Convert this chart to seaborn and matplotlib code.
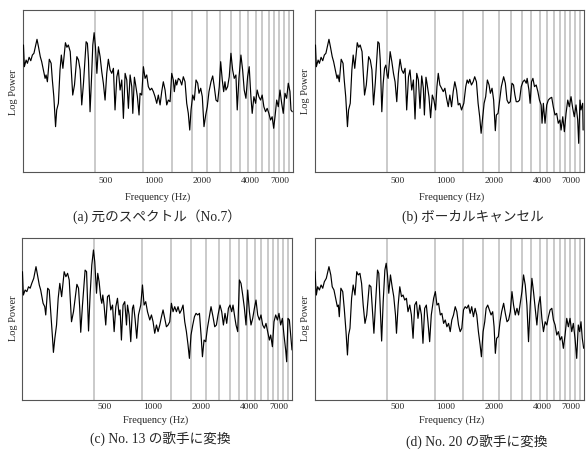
import matplotlib
matplotlib.use("Agg")
import matplotlib.pyplot as plt
import matplotlib.ticker as mticker
import seaborn as sns

sns.set_style("white")
plt.rcParams["font.family"] = ["Liberation Serif", "Noto Sans CJK JP"]

# (a) original spectrum, No.7 -- frequency in Hz, log power in arbitrary units (0-100)
A_FREQ = [154, 156, 160, 163, 167, 171, 175, 179, 187, 191,
          196, 200, 205, 210, 213, 217, 223, 229, 233, 238,
          244, 248, 254, 260, 265, 271, 281, 287, 293, 301,
          312, 320, 331, 339, 347, 355, 364, 378, 385, 391,
          400, 408, 416, 424, 432, 441, 451, 462, 473, 484,
          496, 508, 520, 533, 546, 559, 572, 587, 600, 615,
          630, 645, 661, 677, 693, 710, 727, 738, 755, 766,
          788, 807, 819, 839, 859, 880, 901, 922, 945, 968,
          991, 1015, 1040, 1064, 1091, 1117, 1143, 1172, 1200, 1228,
          1259, 1289, 1319, 1338, 1365, 1385, 1417, 1452, 1488, 1522,
          1560, 1598, 1635, 1669, 1700, 1742, 1782, 1826, 1871, 1906,
          1953, 1998, 2047, 2098, 2146, 2199, 2263, 2319, 2372, 2431,
          2491, 2548, 2600, 2660, 2714, 2765, 2804, 2873, 2940, 3012,
          3086, 3158, 3235, 3296, 3377, 3475, 3561, 3643, 3733, 3825,
          3913, 4009, 4085, 4185, 4288, 4387, 4495, 4606, 4712, 4828,
          4947, 5062, 5186, 5314, 5437, 5557, 5663, 5802, 5936, 6082,
          6232, 6376, 6534, 6694, 6851, 7019, 7120, 7254]
A_POWER = [78.4, 65.0, 69.1, 67.1, 70.8, 68.7, 72.2, 73.3, 81.9, 77.3,
           71.2, 68.1, 63.0, 57.8, 59.9, 55.7, 69.6, 67.1, 56.8, 46.5,
           28.0, 38.3, 42.4, 63.0, 72.2, 64.0, 79.8, 77.0, 78.4, 74.3,
           47.5, 53.7, 71.2, 69.1, 63.0, 41.4, 54.8, 80.4, 79.4, 69.1,
           37.2, 56.8, 78.4, 86.0, 77.3, 60.9, 77.3, 71.2, 61.9, 54.8,
           44.4, 60.9, 69.6, 63.0, 60.9, 64.0, 38.3, 58.8, 63.0, 50.6,
           56.8, 33.1, 60.9, 56.8, 39.3, 59.9, 52.7, 36.2, 58.5, 54.8,
           46.5, 35.2, 48.6, 47.5, 65.0, 57.8, 59.9, 52.7, 50.6, 51.7,
           49.6, 46.5, 42.4, 47.5, 41.4, 49.6, 55.7, 50.6, 41.4, 44.4,
           43.4, 60.9, 56.8, 49.6, 56.8, 53.7, 57.8, 56.8, 53.7, 58.8,
           55.7, 42.4, 36.2, 25.9, 38.3, 47.5, 44.4, 56.8, 54.8, 48.6,
           51.7, 46.5, 28.0, 35.2, 40.3, 49.6, 55.7, 59.3, 52.7, 44.4,
           43.4, 52.7, 68.1, 56.8, 49.6, 55.7, 50.6, 52.7, 58.8, 73.3,
           63.0, 57.8, 59.9, 38.3, 57.8, 72.2, 63.0, 50.6, 45.5, 58.8,
           65.0, 46.5, 36.2, 46.5, 42.4, 50.6, 46.5, 44.4, 47.5, 40.3,
           37.2, 39.3, 36.2, 32.1, 34.1, 27.0, 34.1, 44.4, 40.3, 50.6,
           42.4, 36.2, 48.6, 45.5, 54.8, 49.6, 38.3, 37.2]

# (b) vocal cancelled
B_FREQ = [154, 156, 160, 163, 167, 171, 175, 179, 187, 191,
          196, 200, 205, 210, 213, 217, 223, 229, 233, 238,
          244, 248, 254, 260, 265, 271, 281, 287, 293, 301,
          312, 320, 331, 339, 347, 355, 364, 378, 385, 391,
          400, 408, 416, 424, 432, 438, 451, 462, 473, 484, 496, 508, 520,
          533, 546, 559, 572, 587, 600, 615, 630, 645, 661,
          677, 693, 710, 727, 738, 755, 766, 788, 807,
          827, 846, 867, 884, 901, 922, 945, 968, 991, 1015,
          1040, 1064, 1091, 1117, 1143, 1172, 1200, 1228, 1259, 1301,
          1338, 1365, 1391, 1417, 1452, 1488, 1522, 1560, 1598, 1635,
          1669, 1700, 1742, 1782, 1826, 1871, 1906, 1953, 1998, 2047,
          2078, 2129, 2178, 2232, 2307, 2364, 2422, 2478, 2539, 2600,
          2660, 2714, 2765, 2835, 2901, 2972, 3046, 3116, 3193, 3235,
          3319, 3377, 3445, 3515, 3596, 3685, 3775, 3863, 3958, 4009,
          4085, 4185, 4288, 4387, 4495, 4606, 4712, 4828, 4947, 5062,
          5186, 5271, 5401, 5526, 5662, 5802, 5936, 6082, 6232, 6376,
          6533, 6694, 6791, 6919, 7019, 7191, 7237]
B_POWER = [78.4, 65.0, 69.1, 67.1, 70.8, 68.7, 72.2, 73.3, 81.9, 77.3,
           71.2, 68.1, 63.0, 57.8, 59.9, 55.7, 69.6, 67.1, 56.8, 46.5,
           28.0, 38.3, 42.4, 63.0, 72.2, 64.0, 79.8, 77.0, 78.4, 74.3,
           47.5, 53.7, 71.2, 69.1, 63.0, 41.4, 54.8, 80.4, 79.4, 69.1,
           37.2, 54.8, 64.0, 66.0, 59.9, 57.8, 74.3, 68.1, 60.9, 55.7, 43.4, 60.9, 69.6,
           63.0, 60.9, 64.0, 38.3, 58.8, 63.0, 50.6, 56.8, 32.7, 60.9,
           56.8, 39.3, 59.3, 51.7, 35.2, 58.5, 54.8, 46.5, 33.5,
           47.5, 44.4, 38.3, 52.7, 60.9, 53.7, 51.7, 49.6, 51.7, 45.5,
           40.3, 47.5, 40.3, 49.6, 55.7, 50.6, 41.4, 42.4, 38.3, 42.4,
           52.7, 56.8, 54.8, 57.2, 53.7, 55.7, 58.8, 55.7, 42.4, 34.1,
           23.9, 32.1, 42.4, 46.5, 56.8, 53.7, 48.6, 51.7, 44.4, 25.5,
           35.2, 36.2, 44.4, 52.7, 58.8, 54.8, 44.4, 42.4, 43.4, 54.8,
           53.7, 47.5, 43.4, 43.4, 44.4, 52.7, 55.7, 56.8, 54.8, 57.8,
           50.6, 42.4, 55.7, 57.8, 52.7, 53.7, 49.6, 44.4, 41.4, 30.1,
           42.4, 30.1, 41.4, 44.4, 45.5, 46.1, 40.3, 35.2, 36.2, 30.1,
           32.1, 25.9, 34.1, 24.9, 36.2, 44.4, 40.3, 46.5, 39.3, 34.1,
           41.4, 32.1, 17.7, 44.4, 38.3, 42.4, 25.9]

# (c) converted to singer No. 13
C_FREQ = [154, 156, 160, 164, 168, 172, 176, 181, 187, 191,
          196, 200, 207, 212, 215, 221, 226, 231, 237, 240,
          245, 251, 257, 263, 270, 280, 287, 294, 301, 311,
          320, 336, 344, 350, 355, 364, 378, 386, 391, 397,
          406, 416, 426, 434, 445, 453, 462, 473, 480, 487,
          496, 508, 521, 533, 546, 560, 573, 587, 601, 615,
          624, 636, 651, 667, 684, 694, 710, 727, 745, 756,
          773, 792, 812, 839, 860, 880, 901, 924, 955, 978,
          1001, 1025, 1051, 1075, 1102, 1129, 1155, 1183, 1212, 1241,
          1271, 1302, 1333, 1365, 1399, 1432, 1467, 1503, 1538, 1576,
          1614, 1652, 1685, 1724, 1768, 1811, 1853, 1899, 1946, 1991,
          2031, 2078, 2129, 2181, 2232, 2297, 2363, 2422, 2481, 2539,
          2612, 2677, 2743, 2807, 2876, 2947, 3015, 3089, 3148, 3225,
          3286, 3367, 3450, 3530, 3617, 3706, 3792, 3885, 3981, 4073,
          4174, 4276, 4376, 4483, 4594, 4700, 4816, 4935, 5049, 5174,
          5301, 5401, 5534, 5662, 5802, 5945, 6082, 6232, 6385, 6533,
          6694, 6791, 6919, 7059, 7191, 7327]
C_POWER = [79.2, 64.8, 67.9, 66.9, 69.9, 69.0, 72.0, 75.1, 82.3, 77.2,
           71.0, 67.9, 59.7, 57.6, 52.5, 69.0, 67.9, 54.5, 38.1, 29.4,
           38.1, 46.3, 62.8, 72.0, 63.8, 79.2, 76.1, 78.2, 74.1, 48.3,
           54.5, 71.4, 69.0, 56.6, 41.8, 58.6, 80.2, 79.2, 62.8, 42.6,
           64.8, 83.3, 92.6, 85.4, 65.9, 78.2, 73.0, 62.8, 59.7, 64.8,
           58.6, 46.3, 63.8, 64.8, 55.6, 58.6, 42.2, 57.6, 62.8, 52.5,
           55.6, 37.0, 58.6, 60.7, 46.3, 58.6, 52.5, 36.0, 56.6, 58.6,
           50.4, 38.1, 52.5, 58.6, 71.0, 58.6, 60.7, 54.5, 49.4, 52.5,
           48.3, 41.2, 46.3, 42.2, 46.3, 51.4, 55.6, 50.4, 45.2, 46.3,
           48.3, 59.7, 54.5, 57.6, 54.5, 57.6, 53.5, 55.6, 58.6, 48.3,
           42.2, 34.0, 25.7, 40.1, 46.3, 51.4, 53.5, 52.5, 53.5, 40.1,
           26.7, 37.0, 36.0, 44.3, 50.4, 57.6, 51.4, 45.2, 46.3, 52.5,
           58.6, 54.5, 46.3, 53.5, 47.3, 56.6, 58.6, 54.5, 58.6, 51.4,
           46.3, 42.2, 74.1, 72.0, 64.8, 56.6, 46.3, 67.9, 54.5, 46.3,
           50.4, 56.6, 61.7, 52.5, 49.4, 52.5, 46.3, 44.3, 47.3, 42.2,
           37.0, 40.1, 32.9, 48.3, 52.5, 49.4, 53.5, 46.3, 50.4, 40.1,
           30.9, 23.6, 50.4, 49.4, 40.1, 30.9]

# (d) converted to singer No. 20
D_FREQ = [153, 156, 159, 163, 167, 171, 175, 180, 187, 192,
          196, 201, 206, 211, 214, 217, 222, 228, 233, 239,
          244, 248, 253, 259, 265, 272, 279, 285, 292, 299,
          306, 314, 322, 334, 342, 348, 357, 366, 376, 383,
          389, 399, 408, 418, 426, 434, 442, 453, 464, 475,
          487, 494, 506, 518, 531, 543, 556, 570, 583, 598,
          612, 627, 642, 658, 673, 690, 707, 723, 741, 759,
          777, 796, 815, 843, 864, 884, 905, 928, 949, 973,
          996, 1020, 1045, 1070, 1095, 1122, 1150, 1177, 1206, 1235,
          1264, 1295, 1327, 1358, 1391, 1425, 1458, 1494, 1531, 1567,
          1605, 1645, 1676, 1717, 1758, 1793, 1835, 1880, 1926, 1971,
          2011, 2048, 2087, 2138, 2191, 2242, 2307, 2363, 2422, 2478,
          2539, 2601, 2661, 2728, 2795, 2860, 2930, 3002, 3072, 3148,
          3225, 3300, 3381, 3465, 3545, 3632, 3722, 3808, 3902, 3998,
          4091, 4192, 4295, 4395, 4503, 4614, 4721, 4837, 4956, 5071,
          5196, 5324, 5448, 5582, 5719, 5852, 5996, 6144, 6286, 6441,
          6599, 6752, 6889, 7019, 7150, 7295]
D_POWER = [79.2, 64.8, 69.9, 67.9, 71.0, 69.0, 73.0, 75.1, 82.3, 77.2,
           69.9, 67.9, 62.8, 57.6, 58.6, 51.4, 69.0, 66.9, 56.6, 42.2,
           27.8, 40.1, 44.3, 62.8, 71.0, 64.8, 79.2, 77.2, 78.2, 72.0,
           58.6, 47.3, 52.5, 71.0, 69.9, 58.6, 41.2, 60.7, 80.2, 78.2,
           62.8, 36.4, 60.7, 80.2, 84.4, 77.2, 65.9, 77.2, 69.9, 63.8,
           52.5, 41.2, 58.6, 69.9, 63.8, 64.8, 61.7, 62.8, 54.5, 58.6,
           52.5, 38.1, 58.6, 60.7, 50.4, 58.6, 52.5, 35.0, 56.6, 58.6,
           48.3, 36.0, 52.5, 62.8, 66.9, 58.6, 59.7, 52.5, 53.5, 47.3,
           49.4, 45.2, 47.3, 42.2, 49.4, 52.5, 57.6, 54.5, 46.3, 42.2,
           44.3, 55.6, 57.6, 56.6, 58.6, 53.5, 57.6, 51.4, 56.6, 52.5,
           42.2, 34.0, 26.7, 42.2, 48.3, 56.6, 58.6, 55.6, 52.5, 54.5,
           45.2, 28.8, 38.1, 39.1, 48.3, 54.5, 59.7, 53.5, 48.3, 49.4,
           54.5, 66.9, 58.6, 52.5, 56.6, 52.5, 59.7, 66.9, 77.2, 71.0,
           58.6, 36.0, 58.6, 75.1, 66.9, 56.6, 46.3, 58.6, 63.8, 50.4,
           42.2, 48.3, 46.3, 51.4, 55.6, 56.6, 49.4, 46.3, 40.1, 42.2,
           37.0, 39.1, 31.9, 40.1, 50.4, 45.2, 50.4, 42.2, 47.3, 38.1,
           25.7, 46.3, 42.2, 48.3, 38.1, 31.9]

# harmonic positions (gray vertical lines), Hz
HARMONICS_HZ = [430, 860, 1290, 1720, 2150, 2580, 3010, 3440,
                3870, 4300, 4730, 5160, 5590, 6020, 6450, 6880]
TICKS_HZ = [500, 1000, 2000, 4000, 7000]
TICK_LABELS = ["500", "1000", "2000", "4000", "7000"]
MINOR_TICKS_HZ = [1500, 3000, 5000]
CAPTIONS = ["(a) 元のスペクトル（No.7）", "(b) ボーカルキャンセル",
            "(c) No. 13 の歌手に変換", "(d) No. 20 の歌手に変換"]

W, H = 587, 454
fig = plt.figure(figsize=(W / 100, H / 100), dpi=100)


def rect(l, t, r, b):
    return [l / W, 1 - b / H, (r - l) / W, (b - t) / H]


# box (px), tick pad, xlabel pos, ylabel pos, caption pos
layout = [
    (A_FREQ, A_POWER, (23, 10, 293, 172), 3.6, (158, 197), (14, 92), (157, 217)),
    (B_FREQ, B_POWER, (315, 10, 584, 172), 3.6, (452, 197), (305, 91), (473, 217)),
    (C_FREQ, C_POWER, (22, 238, 292, 400), 2.0, (156, 420), (13, 318), (160, 439)),
    (D_FREQ, D_POWER, (315, 238, 584, 400), 2.0, (452, 420), (305, 318), (477, 442)),
]

for (freq, power, box, pad, xl, yl, cap), caption in zip(layout, CAPTIONS):
    ax = fig.add_axes(rect(*box))
    for h in HARMONICS_HZ:
        ax.axvline(h, color="#c6c6c6", lw=1.3, zorder=1)
    sns.lineplot(x=freq, y=power, ax=ax, color="black", linewidth=0.85,
                 estimator=None, sort=False, zorder=3)
    ax.set_xscale("log")
    ax.set_xlim(153, 7330)
    ax.set_ylim(0, 100)
    ax.set_yticks([])
    ax.set_xticks(TICKS_HZ)
    ax.set_xticklabels(TICK_LABELS)
    ax.xaxis.set_minor_locator(mticker.FixedLocator(MINOR_TICKS_HZ))
    ax.xaxis.set_minor_formatter(mticker.NullFormatter())
    ax.tick_params(axis="x", which="major", length=0, pad=pad, labelsize=6.8)
    ax.tick_params(axis="x", which="minor", length=2, width=0.8, color="#444444")
    ax.get_xticklabels()[-1].set_ha("right")
    ax.set_xlabel("")
    ax.set_ylabel("")
    for s in ax.spines.values():
        s.set_color("#555555")
        s.set_linewidth(0.8)

    fig.text(xl[0] / W, 1 - xl[1] / H, "Frequency (Hz)", ha="center", va="center", fontsize=7.5)
    fig.text(yl[0] / W, 1 - yl[1] / H, "Log Power", ha="center", va="center",
             rotation=90, fontsize=7.5)
    fig.text(cap[0] / W, 1 - cap[1] / H, caption, ha="center", va="center", fontsize=9.8)

fig.savefig("out.png", dpi=100)
